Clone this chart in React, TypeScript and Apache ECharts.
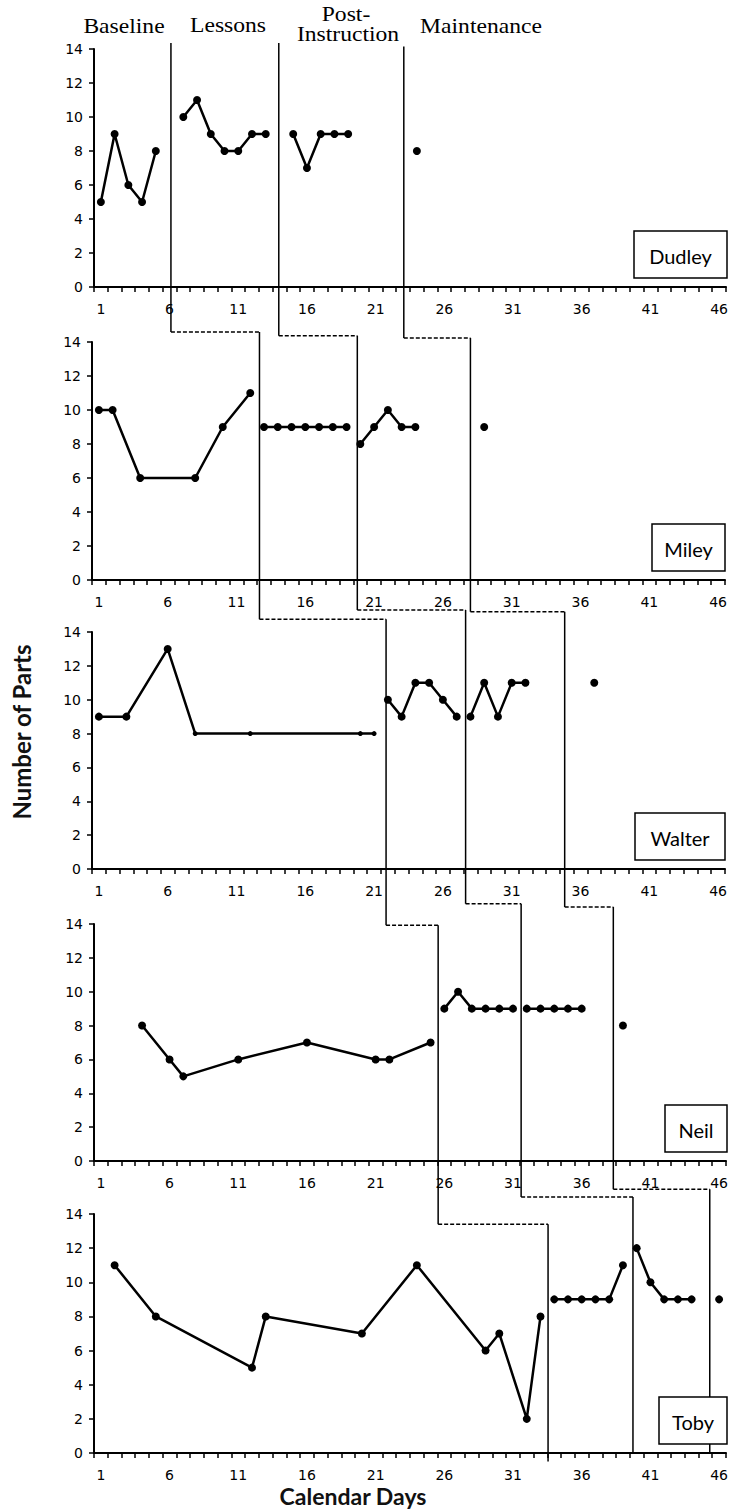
import React, { useEffect, useRef } from "react";
import * as echarts from "echarts";

// ---- categories / labels ----
const dayLabels = Array.from({ length: 46 }, (_, i) => String(i + 1));
const names = ["Dudley", "Miley", "Walter", "Neil", "Toby"];
const phaseTitles = ["Baseline", "Lessons", "Post-", "Instruction", "Maintenance"];
const yTitle = "Number of Parts";
const xTitle = "Calendar Days";

// ---- data: [calendar day, number of parts] ----
const dudleyBaseline = [[1, 5], [2, 9], [3, 6], [4, 5], [5, 8]];
const dudleyLessons = [[7, 10], [8, 11], [9, 9], [10, 8], [11, 8], [12, 9], [13, 9]];
const dudleyPost = [[15, 9], [16, 7], [17, 9], [18, 9], [19, 9]];
const dudleyMaint = [[24, 8]];

const mileyBaseline = [[1, 10], [2, 10], [4, 6], [8, 6], [10, 9], [12, 11]];
const mileyLessons = [[13, 9], [14, 9], [15, 9], [16, 9], [17, 9], [18, 9], [19, 9]];
const mileyPost = [[20, 8], [21, 9], [22, 10], [23, 9], [24, 9]];
const mileyMaint = [[29, 9]];

const walterBaseline = [[1, 9], [3, 9], [6, 13], [8, 8], [12, 8], [20, 8], [21, 8]];
const walterLessons = [[22, 10], [23, 9], [24, 11], [25, 11], [26, 10], [27, 9]];
const walterPost = [[28, 9], [29, 11], [30, 9], [31, 11], [32, 11]];
const walterMaint = [[37, 11]];

const neilBaseline = [[4, 8], [6, 6], [7, 5], [11, 6], [16, 7], [21, 6], [22, 6], [25, 7]];
const neilLessons = [[26, 9], [27, 10], [28, 9], [29, 9], [30, 9], [31, 9]];
const neilPost = [[32, 9], [33, 9], [34, 9], [35, 9], [36, 9]];
const neilMaint = [[39, 8]];

const tobyBaseline = [[2, 11], [5, 8], [12, 5], [13, 8], [20, 7], [24, 11], [29, 6], [30, 7], [32, 2], [33, 8]];
const tobyLessons = [[34, 9], [35, 9], [36, 9], [37, 9], [38, 9], [39, 11]];
const tobyPost = [[40, 12], [41, 10], [42, 9], [43, 9], [44, 9]];
const tobyMaint = [[46, 9]];

// phase-change lines (calendar day where the line is drawn)
const dudleyPhases = [6.1, 13.95, 23.05];
const mileyPhases = [12.67, 19.78, 28.0];
const walterPhases = [21.87, 27.65, 34.85];
const neilPhases = [25.55, 31.59, 38.3];
const tobyPhases = [33.55, 39.73, 45.32];

// level (in the next panel's y units) of the dashed step connecting the phase lines
const dudleyStep = [14.59, 14.37, 14.23];
const mileyStep = [14.75, 15.3, 15.2];
const walterStep = [13.92, 15.2, 15.0];
const neilStep = [13.4, 15.0, 15.45];
const dudleyTop = [14.35, 14.35, 14.15];
const tobyBottom = [-0.5, 0, 0];

// small markers (Walter's baseline)
const walterSmallDays = [8, 12, 20, 21];

const panels = [
  [dudleyBaseline, dudleyLessons, dudleyPost, dudleyMaint],
  [mileyBaseline, mileyLessons, mileyPost, mileyMaint],
  [walterBaseline, walterLessons, walterPost, walterMaint],
  [neilBaseline, neilLessons, neilPost, neilMaint],
  [tobyBaseline, tobyLessons, tobyPost, tobyMaint],
];
const phases = [dudleyPhases, mileyPhases, walterPhases, neilPhases, tobyPhases];
const steps = [dudleyStep, mileyStep, walterStep, neilStep];

// layout
const gridLeft = [94, 92, 92, 94, 94];
const gridTop = [49, 342, 632, 924, 1214];
const gridHeight = [238, 238, 237, 237, 239];
const gridWidth = 633;
const boxWidth = [93, 73, 90, 62, 68];

export default function App() {
  const ref = useRef<HTMLDivElement>(null);
  useEffect(() => {
    const chart = echarts.init(ref.current!, null, { renderer: "svg" });
    const grid: any[] = [];
    const xAxis: any[] = [];
    const yAxis: any[] = [];
    const series: any[] = [];
    const labelStyle = { fontFamily: "DejaVu Sans", fontSize: 14, color: "#000" };
    panels.forEach((segs, i) => {
      grid.push({ left: gridLeft[i], top: gridTop[i], width: gridWidth, height: gridHeight[i] });
      xAxis.push({
        type: "category",
        gridIndex: i,
        data: dayLabels,
        boundaryGap: true,
        position: "bottom",
        axisLine: { onZero: false, lineStyle: { color: "#000", width: 2 } },
        axisTick: { show: true, interval: 0, length: 5, lineStyle: { color: "#000", width: 1.5 } },
        axisLabel: { interval: 4, margin: 15, ...labelStyle },
        splitLine: { show: false },
      });
      xAxis.push({ type: "value", gridIndex: i, min: 0.5, max: 46.5, show: false, position: "top" });
      yAxis.push({
        type: "value",
        gridIndex: i,
        min: 0,
        max: 14,
        interval: 2,
        axisLine: { show: true, lineStyle: { color: "#000", width: 2 } },
        axisTick: { show: true, length: 5, lineStyle: { color: "#000", width: 1.5 } },
        axisLabel: { margin: 11, ...labelStyle },
        splitLine: { show: false },
      });
      segs.forEach((d) => {
        series.push({
          type: "line",
          xAxisIndex: 2 * i + 1,
          yAxisIndex: i,
          data: d,
          symbol: "circle",
          symbolSize: i === 2 ? (v: number[]) => (walterSmallDays.includes(v[0]) && v[1] === 8 ? 5 : 8) : 8,
          lineStyle: { color: "#000", width: 2.5 },
          itemStyle: { color: "#000" },
          clip: false,
          z: 3,
        });
      });
    });
    chart.setOption({ animation: false, backgroundColor: "#fff", grid, xAxis, yAxis, series });

    const px = (i: number, day: number) => chart.convertToPixel({ xAxisIndex: 2 * i + 1 } as any, day) as number;
    const py = (i: number, v: number) => chart.convertToPixel({ yAxisIndex: i } as any, v) as number;

    const g: any[] = [];
    const solid = { stroke: "#000", lineWidth: 1.5 };
    const dashed = { stroke: "#000", lineWidth: 1.5, lineDash: [4, 2] };
    for (let i = 0; i < 5; i++) {
      for (let k = 0; k < 3; k++) {
        const x = px(i, phases[i][k]);
        const yTop = i === 0 ? py(0, dudleyTop[k]) : py(i, steps[i - 1][k]);
        const yBot = i < 4 ? py(i + 1, steps[i][k]) : py(4, tobyBottom[k]);
        g.push({ type: "line", shape: { x1: x, y1: yTop, x2: x, y2: yBot }, style: solid, z: 10 });
        if (i < 4) {
          const x2 = px(i + 1, phases[i + 1][k]);
          g.push({ type: "line", shape: { x1: x, y1: yBot, x2: x2, y2: yBot }, style: dashed, z: 10 });
        }
      }
      // name box
      const right = gridLeft[i] + gridWidth;
      const bottom = gridTop[i] + gridHeight[i] - 9;
      const bw = boxWidth[i];
      const bh = 47;
      g.push({
        type: "rect",
        shape: { x: right - bw, y: bottom - bh, width: bw, height: bh },
        style: { fill: "#fff", stroke: "#000", lineWidth: 1.5 },
        z: 12,
      });
      g.push({
        type: "text",
        x: right - bw / 2,
        y: bottom - bh / 2 + 1,
        style: { text: names[i], fontFamily: "Lato", fontSize: 20, fill: "#000", textAlign: "center", textVerticalAlign: "middle" },
        z: 13,
      });
    }
    // phase titles
    const titlePos = [[124, 27], [228, 26], [346, 15], [348, 35], [481, 27]];
    phaseTitles.forEach((t, j) => {
      g.push({
        type: "text",
        x: titlePos[j][0],
        y: titlePos[j][1],
        scaleX: 1.18,
        style: { text: t, fontFamily: "Liberation Serif", fontSize: 20, fill: "#000", textAlign: "center", textVerticalAlign: "middle" },
      });
    });
    g.push({
      type: "text",
      x: 21,
      y: 732,
      rotation: Math.PI / 2,
      style: { text: yTitle, fontFamily: "Lato", fontSize: 24, fontWeight: "bold", fill: "#111", textAlign: "center", textVerticalAlign: "middle" },
    });
    g.push({
      type: "text",
      x: 353,
      y: 1496,
      style: { text: xTitle, fontFamily: "Lato", fontSize: 23, fontWeight: "bold", fill: "#111", textAlign: "center", textVerticalAlign: "middle" },
    });
    chart.setOption({ graphic: g });

    return () => chart.dispose();
  }, []);
  return <div ref={ref} style={{ position: "absolute", left: 0, top: 0, width: 731, height: 1511 }} />;
}
